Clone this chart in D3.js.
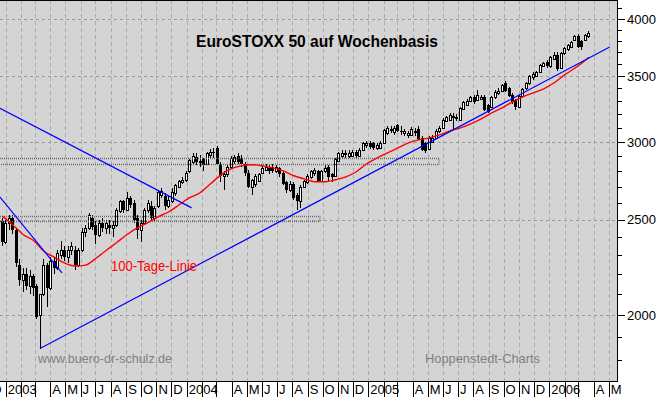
<!DOCTYPE html>
<html>
<head>
<meta charset="utf-8">
<script src="https://cdn.jsdelivr.net/npm/d3@7"></script>
<style>
  body { margin: 0; background: #fff; }
  svg { display: block; font-family: Arial, "Liberation Sans", sans-serif; }
</style>
</head>
<body>
<div class="chart"></div>
<script>
// weekly EuroSTOXX 50 bars, first week starts Mon 2002-12-23
var firstMonday = "2002-12-23";
var openPrices = [2490,2370,2480,2510,2440,2250,2170,2200,2140,2190,2140,2000,2100,2250,2130,2270,2230,2300,2330,2290,
  2330,2330,2250,2330,2430,2450,2510,2470,2410,2480,2450,2470,2450,2470,2550,2610,2560,2630,2600,2510,
  2440,2480,2555,2580,2510,2580,2650,2640,2580,2610,2660,2700,2730,2745,2800,2860,2895,2860,2880,2850,
  2910,2930,2960,2850,2770,2780,2830,2870,2900,2890,2850,2790,2700,2715,2740,2790,2810,2820,2830,2800,
  2820,2790,2730,2680,2720,2650,2610,2700,2730,2760,2790,2800,2740,2800,2830,2780,2770,2870,2905,2920,
  2900,2905,2930,2905,2940,2975,2995,2990,2955,2960,2990,3060,3090,3070,3120,3080,3060,3045,3050,3080,
  3090,3030,2990,2950,3000,3030,3075,3100,3150,3160,3190,3170,3160,3240,3270,3300,3335,3310,3320,3335,
  3270,3255,3330,3360,3380,3440,3400,3350,3310,3255,3340,3400,3440,3490,3500,3535,3585,3620,3580,3640,
  3680,3570,3690,3730,3750,3810,3840,3800,3810,3840];
var highPrices = [2510,2500,2530,2530,2450,2280,2230,2230,2220,2200,2150,2100,2280,2260,2290,2290,2330,2380,2350,2350,
  2370,2350,2340,2450,2470,2540,2530,2490,2500,2510,2500,2500,2490,2570,2620,2620,2665,2640,2620,2530,
  2500,2570,2620,2610,2580,2680,2690,2660,2640,2690,2720,2745,2760,2800,2885,2920,2920,2910,2890,2930,
  2950,2960,2970,2860,2800,2840,2900,2910,2920,2910,2860,2810,2750,2780,2790,2840,2850,2840,2850,2840,
  2830,2800,2740,2740,2730,2660,2710,2745,2780,2810,2820,2810,2810,2840,2840,2790,2890,2930,2940,2940,
  2940,2945,2945,2955,3000,3005,3005,3000,2990,3005,3095,3110,3110,3110,3130,3110,3090,3080,3105,3100,
  3110,3040,3000,3040,3045,3090,3110,3170,3190,3210,3210,3200,3255,3300,3315,3340,3350,3385,3350,3350,
  3280,3340,3385,3400,3435,3460,3410,3360,3320,3350,3405,3450,3510,3530,3545,3600,3620,3630,3670,3700,
  3700,3700,3750,3770,3800,3850,3860,3810,3865,3890];
var lowPrices = [2350,2360,2440,2420,2240,2140,2110,2120,2100,2090,1980,1848,2090,2040,2120,2200,2220,2280,2270,2260,
  2300,2220,2240,2320,2400,2440,2440,2360,2400,2430,2420,2420,2400,2460,2540,2540,2550,2570,2480,2390,
  2370,2470,2540,2490,2490,2570,2630,2560,2570,2600,2640,2690,2720,2730,2790,2840,2840,2830,2800,2840,
  2890,2890,2840,2730,2680,2760,2820,2850,2850,2830,2770,2690,2650,2700,2730,2780,2800,2780,2790,2790,
  2760,2710,2660,2670,2620,2560,2570,2690,2720,2750,2770,2730,2730,2790,2740,2730,2760,2860,2890,2890,
  2890,2895,2890,2895,2935,2960,2950,2940,2940,2950,2985,3050,3060,3050,3070,3050,3040,3030,3040,3040,
  3010,2935,2920,2940,2990,3020,3065,3090,3140,3150,3085,3150,3150,3230,3260,3290,3280,3300,3310,3225,
  3210,3245,3320,3350,3370,3370,3330,3280,3230,3245,3330,3390,3430,3470,3490,3525,3575,3570,3570,3630,
  3540,3560,3680,3710,3740,3800,3740,3720,3800,3830];
var closePrices = [2370,2480,2510,2440,2260,2170,2200,2140,2190,2130,1990,2100,2250,2130,2270,2230,2310,2330,2290,2330,
  2350,2250,2330,2430,2450,2525,2455,2410,2480,2450,2480,2450,2470,2560,2610,2560,2630,2590,2500,2440,
  2480,2555,2600,2510,2570,2670,2675,2580,2620,2670,2710,2735,2745,2790,2875,2900,2860,2870,2840,2920,
  2930,2920,2850,2770,2780,2830,2890,2895,2865,2850,2790,2700,2745,2770,2780,2825,2830,2800,2800,2830,
  2780,2720,2680,2720,2630,2610,2700,2735,2770,2800,2810,2740,2800,2820,2760,2760,2880,2920,2920,2910,
  2925,2930,2905,2945,2990,2995,2965,2955,2975,2995,3085,3100,3080,3100,3080,3070,3075,3065,3095,3060,
  3020,2945,2935,3030,3030,3080,3100,3160,3180,3195,3170,3180,3245,3290,3300,3330,3290,3345,3335,3235,
  3220,3330,3375,3380,3425,3380,3340,3290,3255,3340,3395,3440,3500,3520,3530,3590,3610,3580,3660,3680,
  3560,3690,3740,3760,3790,3840,3750,3745,3850,3870];

// 100-Tage-Linie, read every third week
var maWeeks = [0,3,6,9,12,15,18,21,24,27,30,33,36,39,42,45,48,51,54,57,60,63,66,69,72,75,78,81,84,87,
  90,93,96,99,102,105,108,111,114,117,120,123,126,129,132,135,138,141,144,147,150,153,156,159,162,165,168,169];
var maValues = [2521,2471,2415,2381,2322,2290,2258,2243,2248,2284,2327,2370,2415,2454,2483,2518,2547,2589,2632,2663,
  2719,2777,2817,2836,2843,2836,2823,2803,2771,2751,2732,2732,2745,2764,2797,2850,2890,2924,2958,2993,
  3014,3028,3049,3078,3100,3129,3166,3211,3249,3295,3334,3365,3397,3445,3509,3566,3632,3658];

// drawn trend lines [date, value] pairs
var trendStart = [["2002-12-20T12:00Z", 3245], ["2002-12-20T12:00Z", 2636], ["2003-03-11T05:00Z", 1849]];
var trendEnd = [["2004-01-11T00:00Z", 2570], ["2003-04-24T12:00Z", 2207], ["2006-05-03T00:00Z", 3746]];

// support zones
var zoneLow = [2847, 2494];
var zoneHigh = [2888, 2524];
var zoneEnd = ["2005-05-24T00:00Z", "2004-09-26T00:00Z"];

var majorTicks = [2000, 2500, 3000, 3500, 4000];
var minorTicks = [1800,1900,2000,2100,2200,2300,2400,2500,2600,2700,2800,2900,3000,3100,3200,3300,3400,3500,3600,3700,3800,3900,4000,4100];
var monthLetters = ["J","F","M","A","M","J","J","A","S","O","N","D"];

var width = 658, height = 397;
var plotW = 617, plotH = 381;

var x = d3.scaleUtc()
  .domain([new Date("2002-12-20T12:00Z"), new Date("2006-05-17T17:00Z")])
  .range([0, plotW]);
var y = d3.scaleLog().domain([1713.5, 4182]).range([plotH, 0]);

var weeks = d3.utcMonday.range(new Date(firstMonday + "T00:00Z"), new Date("2006-03-27T00:00Z"));
var bars = weeks.map(function(d, i) {
  return {date: d3.utcDay.offset(d, 2), o: openPrices[i], h: highPrices[i], l: lowPrices[i], c: closePrices[i]};
});

var svg = d3.select(".chart").append("svg")
  .attr("width", width)
  .attr("height", height);

svg.append("defs").append("clipPath").attr("id", "plotclip")
  .append("rect").attr("x", 0).attr("y", 0).attr("width", plotW).attr("height", plotH);

svg.append("rect").attr("x", 0).attr("y", 0).attr("width", plotW).attr("height", plotH).attr("fill", "#d4d4d4");

var plot = svg.append("g").attr("clip-path", "url(#plotclip)");

var months = d3.utcMonth.range(new Date("2002-12-01T00:00Z"), new Date("2006-06-01T00:00Z"));

// grid
plot.selectAll("line.vgrid")
  .data(months)
  .enter()
  .append("line")
  .attr("x1", function(d) { return Math.round(x(d)) + 0.5; })
  .attr("x2", function(d) { return Math.round(x(d)) + 0.5; })
  .attr("y1", 0).attr("y2", plotH)
  .attr("stroke", "#ababab").attr("stroke-dasharray", "4,3");

plot.selectAll("line.hgrid")
  .data(majorTicks)
  .enter()
  .append("line")
  .attr("x1", 0).attr("x2", plotW)
  .attr("y1", function(d) { return Math.round(y(d)) + 0.5; })
  .attr("y2", function(d) { return Math.round(y(d)) + 0.5; })
  .attr("stroke", "#9a9a9a").attr("stroke-dasharray", "3,3");

// candles
var cg = plot.append("g").attr("shape-rendering", "crispEdges");
cg.selectAll("line.wick")
  .data(bars)
  .enter()
  .append("line")
  .attr("x1", function(d) { return Math.floor(x(d.date)) + 0.5; })
  .attr("x2", function(d) { return Math.floor(x(d.date)) + 0.5; })
  .attr("y1", function(d) { return y(d.h); })
  .attr("y2", function(d) { return y(d.l); })
  .attr("stroke", "#000");

cg.selectAll("rect.body")
  .data(bars)
  .enter()
  .append("rect")
  .attr("x", function(d) { return d.c >= d.o ? Math.floor(x(d.date)) - 0.5 : Math.floor(x(d.date)) - 1; })
  .attr("y", function(d) { return Math.round(y(Math.max(d.o, d.c))) + (d.c >= d.o ? 0.5 : 0); })
  .attr("width", function(d) { return d.c >= d.o ? 2 : 3; })
  .attr("height", function(d) { return Math.max(1, Math.round(y(Math.min(d.o, d.c))) - Math.round(y(Math.max(d.o, d.c)))); })
  .attr("fill", function(d) { return d.c >= d.o ? "#fff" : "#000"; })
  .attr("stroke", function(d) { return d.c >= d.o ? "#000" : "none"; });

// support zones
plot.selectAll("rect.zone")
  .data(zoneLow)
  .enter()
  .append("rect")
  .attr("x", -2)
  .attr("y", function(d, i) { return Math.round(y(zoneHigh[i])) + 0.5; })
  .attr("width", function(d, i) { return Math.round(x(new Date(zoneEnd[i]))) + 2; })
  .attr("height", function(d, i) { return Math.round(y(d)) - Math.round(y(zoneHigh[i])); })
  .attr("fill", "none")
  .attr("stroke", "#6a6a6a")
  .attr("stroke-width", 1.3)
  .attr("stroke-dasharray", "1,1");

// moving average
var maLine = d3.line()
  .x(function(d, i) { return x(d3.utcDay.offset(weeks[d], 2)); })
  .y(function(d, i) { return y(maValues[i]); })
  .curve(d3.curveMonotoneX);
plot.append("path")
  .attr("d", maLine(maWeeks))
  .attr("fill", "none")
  .attr("stroke", "#ff0000")
  .attr("stroke-width", 1.4);

// trend lines
plot.selectAll("line.trend")
  .data(trendStart)
  .enter()
  .append("line")
  .attr("x1", function(d) { return x(new Date(d[0])); })
  .attr("y1", function(d) { return y(d[1]); })
  .attr("x2", function(d, i) { return x(new Date(trendEnd[i][0])); })
  .attr("y2", function(d, i) { return y(trendEnd[i][1]); })
  .attr("stroke", "#0000ff")
  .attr("stroke-width", 1.2);

// frame
svg.append("line").attr("x1", 0).attr("x2", plotW + 1).attr("y1", 0.5).attr("y2", 0.5).attr("stroke", "#000");
svg.append("line").attr("x1", plotW + 0.5).attr("x2", plotW + 0.5).attr("y1", 0).attr("y2", plotH + 1).attr("stroke", "#000");
svg.append("line").attr("x1", 0).attr("x2", plotW + 1).attr("y1", plotH + 0.5).attr("y2", plotH + 0.5).attr("stroke", "#000");

// right axis
svg.selectAll("line.minor")
  .data(minorTicks)
  .enter()
  .append("line")
  .attr("x1", plotW).attr("x2", function(d) { return majorTicks.indexOf(d) >= 0 ? plotW + 8 : plotW + 5; })
  .attr("y1", function(d) { return Math.round(y(d)) + 0.5; })
  .attr("y2", function(d) { return Math.round(y(d)) + 0.5; })
  .attr("stroke", "#000");

svg.selectAll("text.ylab")
  .data(majorTicks)
  .enter()
  .append("text")
  .attr("x", plotW + 10)
  .attr("y", function(d) { return y(d); })
  .attr("dy", "0.36em")
  .attr("font-size", "13px")
  .attr("fill", "#000")
  .text(function(d) { return d; });

// bottom month band
var band = svg.append("g");
band.selectAll("line.sep")
  .data(months)
  .enter()
  .append("line")
  .attr("x1", function(d) { return Math.round(x(d)) + 0.5; })
  .attr("x2", function(d) { return Math.round(x(d)) + 0.5; })
  .attr("y1", plotH).attr("y2", height)
  .attr("stroke", "#000");

band.selectAll("text.mon")
  .data(months.filter(function(d) { return d.getUTCMonth() != 1 && d.getUTCMonth() != 2; }))
  .enter()
  .append("text")
  .attr("x", function(d) { return x(d) + 2; })
  .attr("y", 394)
  .attr("font-size", "13px")
  .attr("fill", "#000")
  .text(function(d) { return d.getUTCMonth() == 0 ? d.getUTCFullYear() : monthLetters[d.getUTCMonth()]; });

// texts
svg.append("text")
  .attr("x", 196).attr("y", 47)
  .attr("font-size", "17px").attr("font-weight", "bold")
  .attr("textLength", 242).attr("lengthAdjust", "spacingAndGlyphs")
  .text("EuroSTOXX 50 auf Wochenbasis");

svg.append("text")
  .attr("x", 111).attr("y", 271)
  .attr("font-size", "14px").attr("fill", "#ff0000")
  .attr("textLength", 86).attr("lengthAdjust", "spacingAndGlyphs")
  .text("100-Tage-Linie");

svg.append("text")
  .attr("x", 38).attr("y", 363)
  .attr("font-size", "13px").attr("fill", "#808080")
  .attr("textLength", 134).attr("lengthAdjust", "spacingAndGlyphs")
  .text("www.buero-dr-schulz.de");

svg.append("text")
  .attr("x", 425).attr("y", 363)
  .attr("font-size", "13px").attr("fill", "#808080")
  .attr("textLength", 115).attr("lengthAdjust", "spacingAndGlyphs")
  .text("Hoppenstedt-Charts");
</script>
</body>
</html>
